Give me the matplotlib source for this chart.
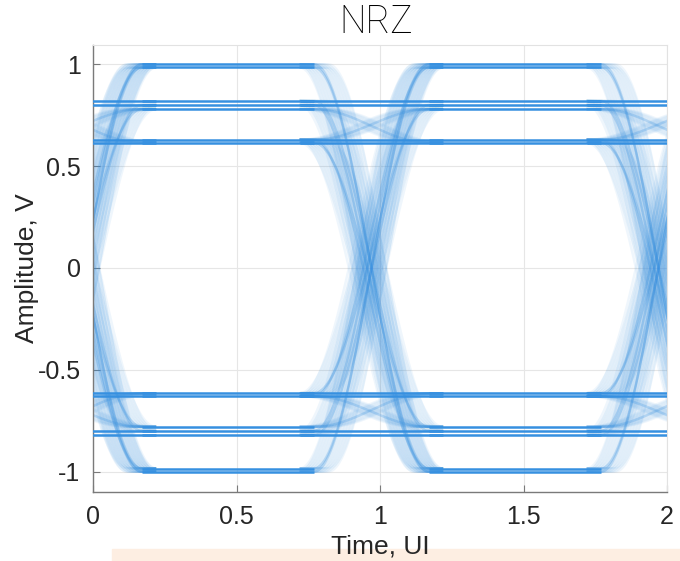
import numpy as np
import matplotlib.pyplot as plt
from matplotlib.patches import Rectangle

# unit-interval boundaries where the edges cross
crossings = [-1.03, -0.03, 0.97, 1.97, 2.97]
edge_halfwidth = 0.2
# timing offsets applied to each edge
jitter = [-0.05, -0.04, -0.03, -0.02, -0.01, 0.0, 0.01, 0.02, 0.03, 0.04, 0.05]

# (level before crossing, level after crossing), volts
rise_pairs = [(-1.0, 1.0), (-0.985, 0.985), (-0.80, 1.0), (-0.63, 0.985), (-0.82, 0.80), (-0.615, 0.78)]
fall_pairs = [(1.0, -1.0), (0.985, -0.985), (0.80, -1.0), (0.63, -0.985), (0.82, -0.80), (0.615, -0.78)]
hold_hi = [(0.82, 0.82), (0.80, 0.80), (0.78, 0.615), (0.63, 0.78), (0.63, 0.63), (0.615, 0.615)]
hold_lo = [(-0.82, -0.82), (-0.80, -0.80), (-0.78, -0.615), (-0.63, -0.78), (-0.63, -0.63), (-0.615, -0.615)]

xticks = [0, 0.5, 1, 1.5, 2]
yticks = [-1, -0.5, 0, 0.5, 1]
trace_color = '#3690e0'
lw = 1.8


def edge(t, w):
    s = np.clip((t + w) / (2 * w), 0, 1)
    return 0.5 - 0.5 * np.cos(np.pi * s)


fig = plt.figure(figsize=(6.8, 5.61), dpi=100)
ax = fig.add_axes([93 / 680, 69 / 561, 574 / 680, 447 / 561])

pairs = rise_pairs + fall_pairs + hold_hi + hold_lo
w = edge_halfwidth
settle = w + max(jitter)

for tc in crossings:
    t = np.linspace(tc - settle, tc + settle, 300)
    for a, b in pairs:
        if a == b:
            ax.plot(t, np.full_like(t, a), color=trace_color, lw=lw,
                    solid_capstyle='butt', zorder=3)
            continue
        # jittered copies smear the edge into a band
        for j in jitter:
            v = a + (b - a) * edge(t - tc - j, w)
            ax.plot(t, v, color=trace_color, lw=lw, alpha=0.08,
                    solid_capstyle='butt', zorder=2)
        # nominal edge
        v = a + (b - a) * edge(t - tc, w)
        ax.plot(t, v, color=trace_color, lw=lw, alpha=0.25,
                solid_capstyle='butt', zorder=2)

# settled symbol levels between edges
levels = sorted(set(b for a, b in pairs))
for t0, t1 in zip(crossings[:-1], crossings[1:]):
    ax.hlines(levels, t0 + w, t1 - w, color=trace_color, lw=lw, zorder=3,
              capstyle='butt')

ax.set_xlim(0, 2)
ax.set_ylim(-1.1, 1.095)
ax.set_xticks(xticks)
ax.set_xticklabels(['0', '0.5', '1', '1.5', '2'])
ax.set_yticks(yticks)
ax.set_yticklabels(['-1', '-0.5', '0', '0.5', '1'])
ax.grid(True, color='#e6e6e6', lw=0.8)
ax.set_axisbelow(True)

for side in ['left', 'bottom']:
    ax.spines[side].set_color('#7a7a7a')
    ax.spines[side].set_linewidth(1.0)
for side in ['top', 'right']:
    ax.spines[side].set_color('#e2e2e2')
    ax.spines[side].set_linewidth(0.8)

ax.tick_params(direction='in', length=5, width=0.8, color='#7a7a7a',
               labelsize=18, labelcolor='#262626', pad=9)
for lbl in ax.get_xticklabels() + ax.get_yticklabels():
    lbl.set_family('Liberation Sans')

ax.set_xlabel('Time, UI', fontsize=19, family='Liberation Sans', color='#262626', labelpad=4)
ax.set_ylabel('Amplitude, V', fontsize=19, family='Liberation Sans', color='#262626', labelpad=-1)
fig.text(376 / 680, 1 - 22 / 561, 'NRZ', ha='center', va='center',
         fontsize=27, family='Roboto', fontweight='light', color='black')

fig.patches.append(Rectangle((112 / 680, 0), 1 - 112 / 680, 12 / 561,
                             transform=fig.transFigure, color='#fdeee2', zorder=-1))

fig.savefig('out.png', dpi=100)
